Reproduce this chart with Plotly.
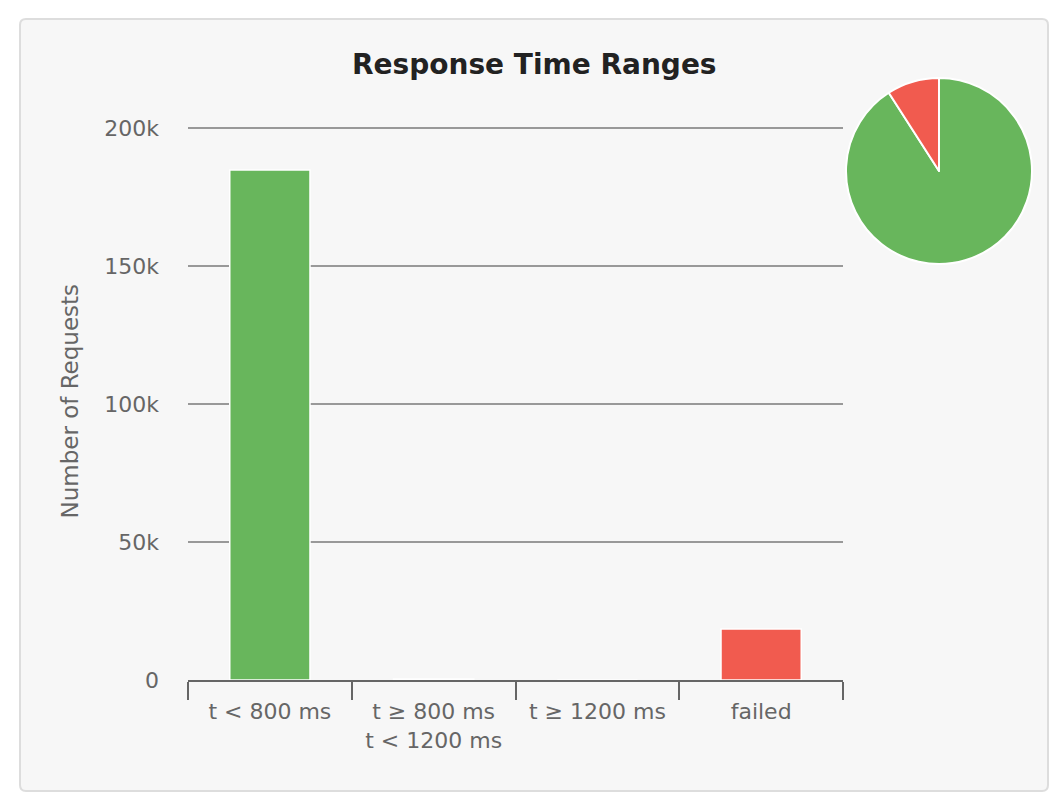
import plotly.graph_objects as go

categories = ["t < 800 ms", "t ≥ 800 ms<br>t < 1200 ms", "t ≥ 1200 ms", "failed"]
requests = [184800, 400, 0, 18500]
bar_colors = ["#68b65c", "#68b65c", "#68b65c", "#f15b4f"]
pie_labels = ["OK", "KO"]
pie_colors = ["#68b65c", "#f15b4f"]
y_tickvals = [0, 50000, 100000, 150000, 200000]
y_ticktext = ["0", "50k", "100k", "150k", "200k"]

# page body has an 8px margin; compensate so screen coordinates match
OFF = 8
W, H = 1063 - OFF, 798 - OFF
def fx(px):
    return (px - OFF) / W
def fy(py):
    return 1 - (py - OFF) / H

ok_total = sum(requests[:3])
ko_total = requests[3]

y_top = 202000
px_per_unit = (680 - 128) / 200000
top_px = 680 - y_top * px_per_unit

fig = go.Figure()
fig.add_trace(go.Bar(
    x=categories, y=requests, width=0.49,
    marker=dict(color=bar_colors, line=dict(color="#ffffff", width=1.5)),
    showlegend=False, hoverinfo="x+y",
))
fig.add_trace(go.Pie(
    labels=pie_labels, values=[ok_total, ko_total],
    marker=dict(colors=pie_colors, line=dict(color="#ffffff", width=2)),
    sort=False, direction="clockwise", rotation=0,
    textinfo="none", showlegend=False,
    domain=dict(x=[fx(846), fx(1032)], y=[fy(264), fy(78)]),
))

# panel with rounded corners
x0, y0, x1, y1, r = 20, 19, 1048, 791, 6
path = (f"M {fx(x0+r)},{fy(y0)} L {fx(x1-r)},{fy(y0)} Q {fx(x1)},{fy(y0)} {fx(x1)},{fy(y0+r)} "
        f"L {fx(x1)},{fy(y1-r)} Q {fx(x1)},{fy(y1)} {fx(x1-r)},{fy(y1)} "
        f"L {fx(x0+r)},{fy(y1)} Q {fx(x0)},{fy(y1)} {fx(x0)},{fy(y1-r)} "
        f"L {fx(x0)},{fy(y0+r)} Q {fx(x0)},{fy(y0)} {fx(x0+r)},{fy(y0)} Z")

fig.update_layout(
    width=W, height=H,
    margin=dict(l=0, r=0, t=0, b=0),
    paper_bgcolor="#ffffff", plot_bgcolor="rgba(0,0,0,0)",
    font=dict(family="DejaVu Sans", color="#666666", size=22),
    shapes=[dict(type="path", path=path, xref="paper", yref="paper",
                 fillcolor="#f7f7f7", line=dict(color="#dddddd", width=2), layer="below")],
    annotations=[dict(text="Response Time Ranges", x=fx(534), y=fy(64), xref="paper", yref="paper",
                      showarrow=False, xanchor="center", yanchor="middle",
                      font=dict(family="DejaVu Sans", size=28, color="#222222", weight=600))],
    xaxis=dict(domain=[fx(188), fx(843)], type="category", tickson="boundaries",
               ticks="outside", ticklen=18, tickwidth=2, tickcolor="#666666",
               showline=True, linecolor="#666666", linewidth=2, ticklabelstandoff=11,
               showgrid=False, tickfont=dict(size=22, color="#666666"), fixedrange=True),
    yaxis=dict(domain=[fy(680), fy(top_px)], range=[0, y_top], tickvals=y_tickvals, ticktext=y_ticktext,
               showgrid=True, gridcolor="#999999", gridwidth=1.5, zeroline=False,
               ticks="", ticklabelstandoff=28, tickfont=dict(size=22, color="#666666"),
               title=dict(text="Number of Requests", standoff=19, font=dict(size=23, color="#666666")),
               automargin=False, fixedrange=True),
)

fig.write_html("out.html")
